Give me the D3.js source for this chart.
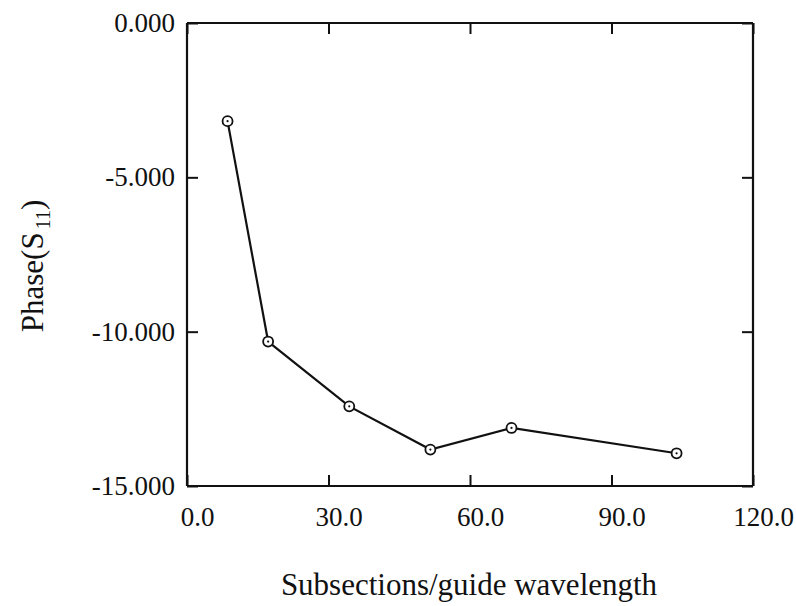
<!DOCTYPE html>
<html>
<head>
<meta charset="utf-8">
<script src="https://cdn.jsdelivr.net/npm/d3@7"></script>
<style>
  body { margin: 0; background: #fff; }
  text { font-family: "Liberation Serif", "DejaVu Serif", serif; fill: #111; }
</style>
</head>
<body>
<div id="chart"></div>
<script>
// data
var subsections = [8.6, 17.2, 34.4, 51.6, 68.8, 103.8];
var phase = [-3.18, -10.32, -12.42, -13.82, -13.12, -13.94];

var xTicks = [0, 30, 60, 90, 120];
var yTicks = [0, -5, -10, -15];

var svgWidth = 796;
var svgHeight = 606;
var margin = { top: 23, right: 43, left: 187, bottom: 120 };

var width = svgWidth - margin.left - margin.right;
var height = svgHeight - margin.top - margin.bottom;

var svg = d3.select("#chart").append("svg")
    .attr("width", svgWidth)
    .attr("height", svgHeight);

var chartGroup = svg.append("g")
    .attr("transform", `translate(${margin.left}, ${margin.top})`);

var xScale = d3.scaleLinear().domain([0, 120]).range([0, width]);
var yScale = d3.scaleLinear().domain([-15, 0]).range([height, 0]);

// plain hyphen for negatives, like the original
var fmtY = d => d3.format(".3f")(d).replace("\u2212", "-");

// axes, ticks pointing inward on all four sides
var tickLen = 11;
var xAxisBottom = d3.axisBottom(xScale).tickValues(xTicks).tickSize(-tickLen)
    .tickPadding(tickLen + 10).tickFormat(d3.format(".1f"));
var xAxisTop = d3.axisTop(xScale).tickValues(xTicks).tickSize(-tickLen).tickFormat("");
var yAxisLeft = d3.axisLeft(yScale).tickValues(yTicks).tickSize(-tickLen)
    .tickPadding(tickLen + 1).tickFormat(fmtY);
var yAxisRight = d3.axisRight(yScale).tickValues(yTicks).tickSize(-tickLen).tickFormat("");

var gx = chartGroup.append("g").attr("transform", `translate(0, ${height})`).call(xAxisBottom);
var gxt = chartGroup.append("g").call(xAxisTop);
var gy = chartGroup.append("g").call(yAxisLeft);
var gyr = chartGroup.append("g").attr("transform", `translate(${width}, 0)`).call(yAxisRight);

[gx, gxt, gy, gyr].forEach(function(g) {
  g.selectAll(".domain").attr("stroke", "#111").attr("stroke-width", 2.2);
  g.selectAll(".tick line").attr("stroke", "#111").attr("stroke-width", 2);
  g.selectAll("text").style("font-size", "27px").attr("fill", "#111")
    .style("font-family", "'Liberation Serif', serif");
});
// x labels sit a little right of their ticks in the original
gx.selectAll(".tick text").attr("dx", 10);

// frame lines without outer ticks
gx.select(".domain").attr("d", `M0,0H${width}`);
gxt.select(".domain").attr("d", `M0,0H${width}`);
gy.select(".domain").attr("d", `M0,0V${height}`);
gyr.select(".domain").attr("d", `M0,0V${height}`);

// line
var line = d3.line()
    .x((d, i) => xScale(subsections[i]))
    .y(d => yScale(d));

chartGroup.append("path")
  .datum(phase)
  .attr("fill", "none")
  .attr("stroke", "#111")
  .attr("stroke-width", 2.2)
  .attr("d", line);

// markers: open circle with a dot
var pts = chartGroup.selectAll(".pt")
  .data(phase)
  .enter()
  .append("g")
  .attr("class", "pt")
  .attr("transform", (d, i) => `translate(${xScale(subsections[i])}, ${yScale(d)})`);

pts.append("circle").attr("r", 5).attr("fill", "#fff").attr("stroke", "#111").attr("stroke-width", 1.8);
pts.append("circle").attr("r", 1.1).attr("fill", "#111");

// axis titles
chartGroup.append("text")
  .attr("x", width / 2 - 1)
  .attr("y", height + 109)
  .attr("text-anchor", "middle")
  .style("font-size", "31px")
  .text("Subsections/guide wavelength");

var yTitle = chartGroup.append("text")
  .attr("transform", `translate(${-margin.left + 43}, ${266 - margin.top}) rotate(-90)`)
  .attr("text-anchor", "middle")
  .style("font-size", "31px");
yTitle.append("tspan").text("Phase(S");
yTitle.append("tspan").attr("dy", 7).attr("dx", 3).style("font-size", "20px").text("11");
yTitle.append("tspan").attr("dy", -7).text(")");
</script>
</body>
</html>
